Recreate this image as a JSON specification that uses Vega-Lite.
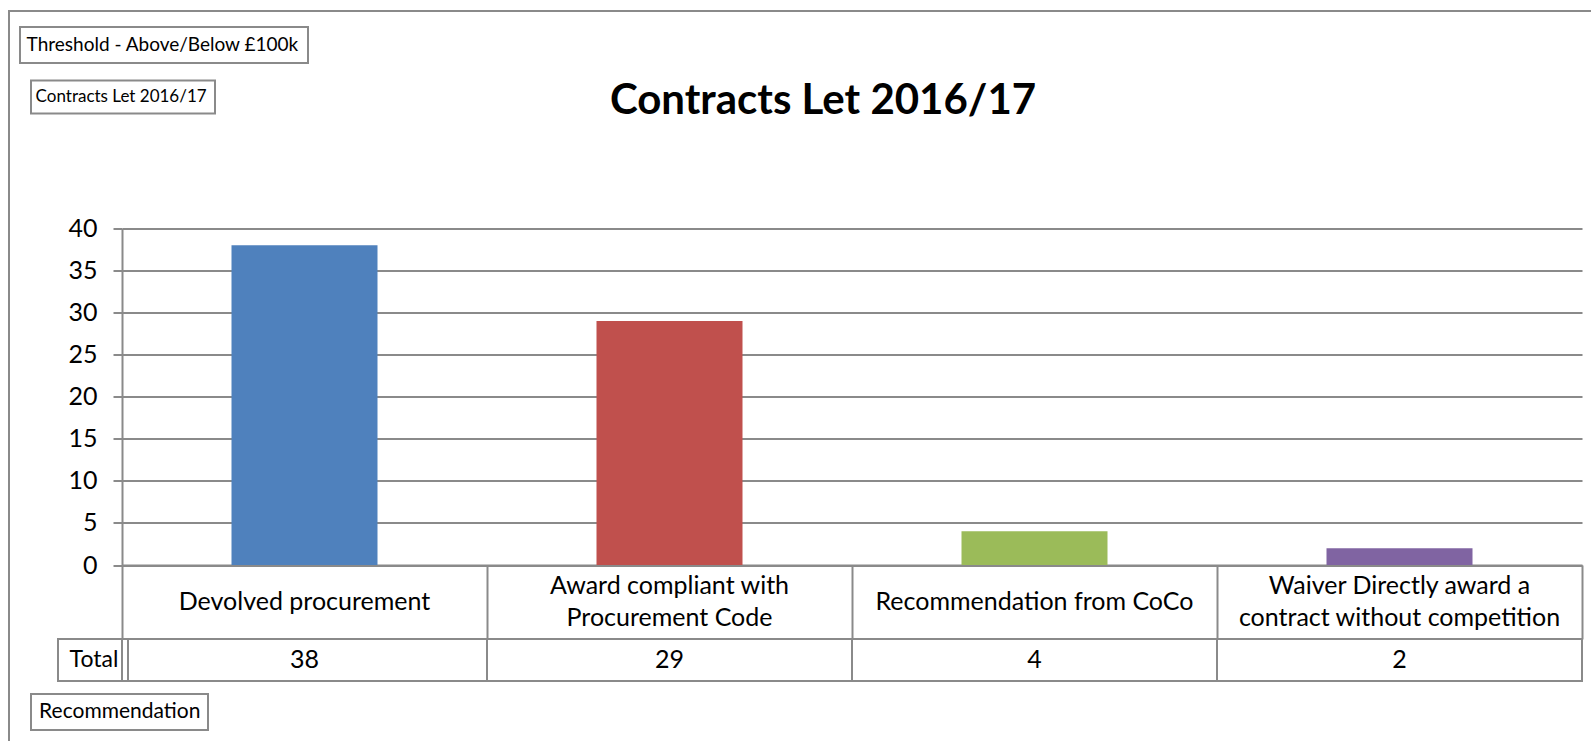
{
  "$schema": "https://vega.github.io/schema/vega-lite/v6.json",
  "width": 1460,
  "height": 336.5,
  "autosize": {"type": "none"},
  "padding": {"left": 122, "top": 228.5, "right": 9, "bottom": 176},
  "background": "white",
  "config": {
    "font": "Lato",
    "view": {"stroke": null},
    "text": {"color": "black"},
    "legend": {
      "strokeColor": "#8a8a8a",
      "strokeWidth": 2,
      "symbolSize": 0,
      "symbolStrokeWidth": 0,
      "symbolOpacity": 0,
      "labelOffset": -20.4,
      "labelLimit": 0,
      "labelColor": "black",
      "labelFont": "Lato",
      "title": null
    }
  },
  "title": {
    "text": "Contracts Let 2016/17",
    "fontSize": 42,
    "fontWeight": "bold",
    "color": "black",
    "anchor": "middle",
    "frame": "group",
    "dx": -29,
    "offset": -146,
    "baseline": "alphabetic"
  },
  "datasets": {
    "contracts": [
      {"category": "Devolved procurement", "count": 38},
      {"category": "Award compliant with\nProcurement Code", "count": 29},
      {"category": "Recommendation from CoCo", "count": 4},
      {"category": "Waiver Directly award a\ncontract without competition", "count": 2}
    ]
  },
  "resolve": {"scale": {"stroke": "independent"}, "legend": {"stroke": "independent"}},
  "layer": [
    {
      "data": {"name": "contracts"},
      "mark": {"type": "bar", "width": {"band": 0.4}},
      "encoding": {
        "x": {
          "field": "category", "type": "nominal", "sort": null,
          "scale": {"paddingInner": 0, "paddingOuter": 0},
          "axis": {
            "title": null, "labels": false,
            "tickBand": "extent", "tickSize": 74, "tickWidth": 2, "tickColor": "#8a8a8a",
            "domainColor": "#8a8a8a", "domainWidth": 2, "grid": false
          }
        },
        "y": {
          "field": "count", "type": "quantitative",
          "scale": {"domain": [0, 40], "nice": false},
          "axis": {
            "title": null, "values": [0, 5, 10, 15, 20, 25, 30, 35, 40],
            "grid": true, "gridColor": "#8a8a8a", "gridWidth": 2,
            "domainColor": "#8a8a8a", "domainWidth": 2,
            "tickSize": 9, "tickWidth": 2, "tickColor": "#8a8a8a",
            "labelPadding": 16, "labelFontSize": 25, "labelColor": "black"
          }
        },
        "color": {
          "field": "category", "type": "nominal", "sort": null,
          "scale": {"range": ["#4f81bd", "#c0504d", "#9bbb59", "#8064a2"]},
          "legend": null
        }
      }
    },
    {
      "data": {"name": "contracts"},
      "transform": [{"filter": "indexof(datum.category, '\\n') < 0"}],
      "mark": {"type": "text", "fontSize": 25, "color": "black", "baseline": "middle", "yOffset": 37},
      "encoding": {
        "x": {"field": "category", "type": "nominal", "sort": null},
        "y": {"datum": 0, "type": "quantitative"},
        "text": {"field": "category", "type": "nominal"}
      }
    },
    {
      "data": {"name": "contracts"},
      "transform": [{"filter": "indexof(datum.category, '\\n') >= 0"}],
      "mark": {"type": "text", "fontSize": 25, "color": "black", "baseline": "middle", "yOffset": 21.25, "lineBreak": "\n", "lineHeight": 31.5},
      "encoding": {
        "x": {"field": "category", "type": "nominal", "sort": null},
        "y": {"datum": 0, "type": "quantitative"},
        "text": {"field": "category", "type": "nominal"}
      }
    },
    {
      "data": {"name": "contracts"},
      "mark": {"type": "rect", "filled": false, "stroke": "#8a8a8a", "strokeWidth": 2, "yOffset": 74, "y2Offset": 116},
      "encoding": {
        "x": {"field": "category", "type": "nominal", "sort": null},
        "y": {"datum": 0, "type": "quantitative"},
        "y2": {"datum": 0}
      }
    },
    {
      "data": {"name": "contracts"},
      "mark": {"type": "text", "fontSize": 25, "color": "black", "yOffset": 95},
      "encoding": {
        "x": {"field": "category", "type": "nominal", "sort": null},
        "y": {"datum": 0, "type": "quantitative"},
        "text": {"field": "count", "type": "quantitative"}
      }
    },
    {
      "data": {"values": [{"label": "Chart area"}]},
      "mark": {"type": "text", "text": ""},
      "encoding": {
        "stroke": {"field": "label", "type": "nominal", "scale": {"range": ["#8a8a8a"]},
          "legend": {"orient": "none", "legendX": -113, "legendY": -217.5, "padding": 1000, "labelExpr": "''"}}
      }
    },
    {
      "data": {"values": [{"label": "Threshold - Above/Below £100k"}]},
      "mark": {"type": "text", "text": ""},
      "encoding": {
        "stroke": {"field": "label", "type": "nominal", "scale": {"range": ["#000000"]},
          "legend": {"orient": "none", "legendX": -102, "legendY": -201.5, "padding": 8, "labelFontSize": 19}}
      }
    },
    {
      "data": {"values": [{"label": "Contracts Let 2016/17"}]},
      "mark": {"type": "text", "text": ""},
      "encoding": {
        "stroke": {"field": "label", "type": "nominal", "scale": {"range": ["#000000"]},
          "legend": {"orient": "none", "legendX": -91, "legendY": -148, "padding": 8, "labelFontSize": 17}}
      }
    },
    {
      "data": {"values": [{"label": "Total"}]},
      "mark": {"type": "text", "text": ""},
      "encoding": {
        "stroke": {"field": "label", "type": "nominal", "scale": {"range": ["#000000"]},
          "legend": {"orient": "none", "legendX": -64, "legendY": 410.5, "padding": 9, "labelFontSize": 23}}
      }
    },
    {
      "data": {"values": [{"label": "Recommendation"}]},
      "mark": {"type": "text", "text": ""},
      "encoding": {
        "stroke": {"field": "label", "type": "nominal", "scale": {"range": ["#000000"]},
          "legend": {"orient": "none", "legendX": -91, "legendY": 465.5, "padding": 7.5, "labelFontSize": 21}}
      }
    }
  ]
}
